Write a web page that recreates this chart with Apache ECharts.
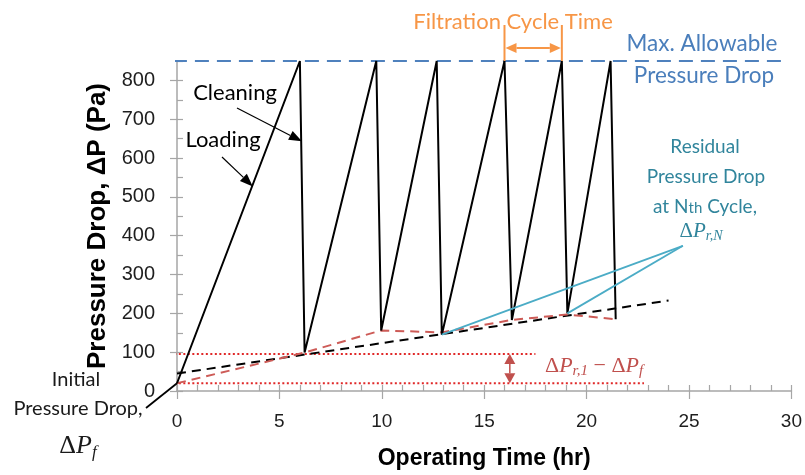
<!DOCTYPE html>
<html>
<head>
<meta charset="utf-8">
<script src="https://cdn.jsdelivr.net/npm/echarts@6/dist/echarts.min.js"></script>
<style>
  html, body { margin: 0; padding: 0; background: #ffffff; }
  #chart { width: 805px; height: 475px; }
</style>
</head>
<body>
<div id="chart"></div>
<script>
// Filter pressure drop over repeated loading / pulse-cleaning cycles
const cycleTime     = [0, 6.0, 6.23, 9.73, 9.97, 12.68, 12.93, 15.99, 16.35, 18.79, 19.06, 21.17, 21.42];
const cyclePressure = [20, 850, 99, 850, 156, 850, 145, 850, 183, 850, 200, 850, 185];

// Linear trend of the residual pressure drop (black dashed)
const trendTime     = [0, 24.0];
const trendPressure = [45, 233];

// Residual pressure drop reached after each cleaning (red dashed)
const residualTime     = [0, 6.23, 9.97, 12.93, 16.35, 19.06, 21.42];
const residualPressure = [20, 99, 156, 151, 183, 197, 185];

// Maximum allowable pressure drop
const maxAllowable = 850;
const maxLineTime  = [-0.2, 29.6];

// Initial pressure drop and residual after the first cycle (red dotted)
const initialDrop      = 20;
const firstResidual    = 95;
const refStartTime     = -0.35;
const firstResidualEnd = 17.5;
const initialDropEnd   = 22.8;

// Leader lines pointing at the Nth-cycle residual label
const leaderStartTime     = [12.93, 19.06];
const leaderStartPressure = [145, 200];
const leaderEnd           = [24.7, 374];

// Cycle used to show the filtration cycle time
const cycleMarkPeaks = [15.99, 18.79];
// Where the first-cycle residual difference is marked
const diffMarkTime = 16.25;

// Axis ticks
const xTicks = [0, 5, 10, 15, 20, 25, 30];
const yTicks = [0, 100, 200, 300, 400, 500, 600, 700, 800];
const xMinor = Array.from({ length: 31 }, (_, i) => i);
const yMinor = Array.from({ length: 18 }, (_, i) => i * 50);

const pairs = (xs, ys) => xs.map((x, i) => [x, ys[i]]);

const AXIS_GREY = '#a6a6a6';
const LABEL_FONT = 'Liberation Sans, Arial, sans-serif';
const NOTE_FONT = 'Lato, "Open Sans", sans-serif';
const MATH_FONT = '"Liberation Serif", "DejaVu Serif", serif';

const chart = echarts.init(document.getElementById('chart'), null, { renderer: 'canvas' });

const lineSeries = (data, color, width, type, extra) => Object.assign({
  type: 'line',
  data: data,
  symbol: 'none',
  silent: true,
  lineStyle: { color: color, width: width, type: type },
  xAxisIndex: 0,
  yAxisIndex: 0
}, extra || {});

const option = {
  animation: false,
  backgroundColor: '#ffffff',
  grid: { left: 177, right: 12, top: 61, bottom: 84 },
  xAxis: [
    {
      type: 'value', min: 0, max: 30, position: 'bottom',
      axisLine: { show: true, lineStyle: { color: AXIS_GREY, width: 1.5 } },
      axisTick: { show: true, inside: true, length: 6, customValues: xMinor, lineStyle: { color: AXIS_GREY, width: 1.2 } },
      axisLabel: { show: true, customValues: xTicks, margin: 21, fontSize: 19, fontFamily: LABEL_FONT, color: '#1e1e1e' },
      splitLine: { show: false },
      name: 'Operating Time (hr)', nameLocation: 'middle', nameGap: 56,
      nameTextStyle: { fontSize: 23, fontWeight: 'bold', fontFamily: LABEL_FONT, color: '#000' }
    },
    {
      type: 'value', min: 0, max: 30, position: 'bottom',
      axisLine: { show: false },
      axisTick: { show: true, inside: false, length: 8, customValues: xTicks, lineStyle: { color: AXIS_GREY, width: 1.2 } },
      axisLabel: { show: false },
      splitLine: { show: false }
    }
  ],
  yAxis: [
    {
      type: 'value', min: 0, max: maxAllowable, position: 'left',
      axisLine: { show: true, lineStyle: { color: AXIS_GREY, width: 1.5 } },
      axisTick: { show: true, inside: true, length: 6, customValues: yMinor, lineStyle: { color: AXIS_GREY, width: 1.2 } },
      axisLabel: { show: true, customValues: yTicks, margin: 22, fontSize: 20, fontFamily: LABEL_FONT, color: '#1e1e1e' },
      splitLine: { show: false },
      name: 'Pressure Drop, ΔP (Pa)', nameLocation: 'middle', nameGap: 64,
      nameTextStyle: { fontSize: 26, fontWeight: 'bold', fontFamily: LABEL_FONT, color: '#000' }
    },
    {
      type: 'value', min: 0, max: maxAllowable, position: 'left',
      axisLine: { show: false },
      axisTick: { show: true, inside: false, length: 7, customValues: yTicks, lineStyle: { color: AXIS_GREY, width: 1.2 } },
      axisLabel: { show: false },
      splitLine: { show: false }
    }
  ],
  series: [
    lineSeries([[maxLineTime[0], maxAllowable], [maxLineTime[1], maxAllowable]], '#4f81bd', 2.2, [14, 8], { clip: false }),
    lineSeries([[refStartTime, firstResidual], [firstResidualEnd, firstResidual]], '#e02828', 2, [2, 2.5], { clip: false }),
    lineSeries([[refStartTime, initialDrop], [initialDropEnd, initialDrop]], '#e02828', 2, [2, 2.5], { clip: false }),
    lineSeries(pairs(trendTime, trendPressure), '#000000', 2, [9, 6]),
    lineSeries(pairs(residualTime, residualPressure), '#cd5b57', 2, [9, 6]),
    lineSeries(pairs(cycleTime, cyclePressure), '#000000', 2),
    lineSeries([[leaderStartTime[0], leaderStartPressure[0]], leaderEnd], '#4bacc6', 1.8),
    lineSeries([[leaderStartTime[1], leaderStartPressure[1]], leaderEnd], '#4bacc6', 1.8)
  ]
};

chart.setOption(option);

// ---- annotations (arrows, leader lines, notes) ----
const px = (t, p) => chart.convertToPixel({ xAxisIndex: 0, yAxisIndex: 0 }, [t, p]);

function arrowHead(tip, from, len, wid, color) {
  const dx = tip[0] - from[0], dy = tip[1] - from[1];
  const d = Math.hypot(dx, dy) || 1;
  const ux = dx / d, uy = dy / d;
  const bx = tip[0] - ux * len, by = tip[1] - uy * len;
  const nx = -uy * wid / 2, ny = ux * wid / 2;
  return {
    base: [bx, by],
    el: {
      type: 'polygon', silent: true, z: 20,
      shape: { points: [tip, [bx + nx, by + ny], [bx - nx, by - ny]] },
      style: { fill: color }
    }
  };
}

function line(a, b, color, w, z) {
  return {
    type: 'line', silent: true, z: z || 20,
    shape: { x1: a[0], y1: a[1], x2: b[0], y2: b[1] },
    style: { stroke: color, lineWidth: w }
  };
}

function arrow(tail, tip, color, w, len, wid) {
  const h = arrowHead(tip, tail, len, wid, color);
  return [line(tail, h.base, color, w), h.el];
}

function doubleArrow(a, b, color, w, len, wid) {
  const ha = arrowHead(a, b, len, wid, color);
  const hb = arrowHead(b, a, len, wid, color);
  return [line(ha.base, hb.base, color, w), ha.el, hb.el];
}

function text(str, x, y, font, color, align, extra) {
  return Object.assign({
    type: 'text', silent: true, z: 30, x: x, y: y,
    style: { text: str, font: font, fill: color, align: align || 'center', verticalAlign: 'middle' }
  }, extra || {});
}

function mathText(str, x, y, color, size, align, subSize) {
  const base = { fontFamily: MATH_FONT, fontSize: size, lineHeight: size + 4, verticalAlign: 'middle', fill: color };
  const sub = { fontFamily: MATH_FONT, fontSize: subSize, fontStyle: 'italic', lineHeight: subSize + 1, verticalAlign: 'bottom', fill: color };
  return {
    type: 'text', silent: true, z: 30, x: x, y: y,
    style: {
      text: str, fill: color, align: align || 'center', verticalAlign: 'middle',
      rich: {
        d: base,
        p: Object.assign({}, base, { fontStyle: 'italic' }),
        o: base,
        s: sub
      }
    }
  };
}

const ORANGE = '#f79646';
const DARK_RED = '#c0504d';
const TEAL = '#31859c';
const BLUE = '#4a7ebb';

const graphics = [];

// Initial pressure drop leader
graphics.push(line([146, 408], px(0, initialDrop), '#000', 1.8));

// Cleaning / Loading arrows
graphics.push(...arrow([237, 108], px(6.1, 643), '#000', 1.2, 13, 10));
graphics.push(...arrow([222, 157], px(3.7, 527), '#000', 1.2, 13, 10));

// Filtration cycle time marker
const pA = px(cycleMarkPeaks[0], maxAllowable);
const pB = px(cycleMarkPeaks[1], maxAllowable);
graphics.push(line(pA, [pA[0], 25], ORANGE, 2));
graphics.push(line(pB, [pB[0], 25], ORANGE, 2));
graphics.push(...doubleArrow([pA[0] + 1, 48], [pB[0] - 1, 48], ORANGE, 2, 11, 10));

// Residual difference of the first cycle
graphics.push(...doubleArrow(px(diffMarkTime, firstResidual), px(diffMarkTime, initialDrop), DARK_RED, 1.5, 10, 11));

// Notes
graphics.push(text('Cleaning', 235, 93, '22px ' + NOTE_FONT, '#000'));
graphics.push(text('Loading', 223, 140, '22px ' + NOTE_FONT, '#000'));
graphics.push(text('Filtration Cycle Time', 513, 22, '22px ' + NOTE_FONT, ORANGE));
graphics.push(text('Max. Allowable', 702, 44, '22.5px ' + NOTE_FONT, BLUE));
graphics.push(text('Pressure Drop', 704, 76, '22.5px ' + NOTE_FONT, BLUE));
graphics.push(text('Residual', 705, 147, '19px ' + NOTE_FONT, TEAL));
graphics.push(text('Pressure Drop', 706, 177, '19px ' + NOTE_FONT, TEAL));
graphics.push({
  type: 'text', silent: true, z: 30, x: 705, y: 205,
  style: {
    text: '{a|at N}{b|th}{a| Cycle,}', align: 'center', verticalAlign: 'middle', fill: TEAL,
    rich: {
      a: { fontFamily: NOTE_FONT, fontSize: 19, lineHeight: 22, verticalAlign: 'bottom', fill: TEAL },
      b: { fontFamily: NOTE_FONT, fontSize: 15, lineHeight: 18, verticalAlign: 'bottom', fill: TEAL }
    }
  }
});
graphics.push(mathText('{d|Δ}{p|P}{s|r,N}', 701, 231, TEAL, 21, 'center', 14));

graphics.push(text('Initial', 76, 380, '20px ' + NOTE_FONT, '#1a1a1a'));
graphics.push(text('Pressure Drop,', 78, 409, '20px ' + NOTE_FONT, '#1a1a1a'));
graphics.push(mathText('{d|Δ}{p|P}{s|f}', 78, 446, '#1a1a1a', 26, 'center', 17));

graphics.push(mathText('{d|Δ}{p|P}{s|r,1}{o| − }{d|Δ}{p|P}{s|f}', 545, 366, DARK_RED, 22, 'left', 15));

chart.setOption({ graphic: graphics });
</script>
</body>
</html>
